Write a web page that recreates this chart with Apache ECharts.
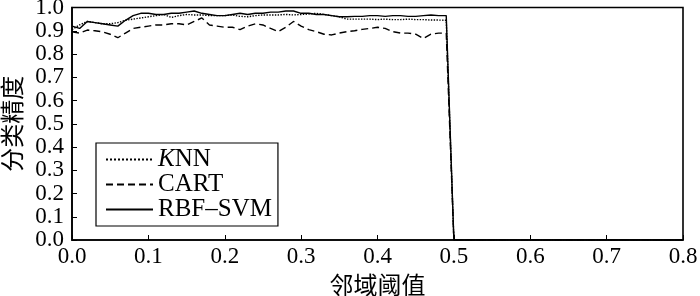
<!DOCTYPE html>
<html><head><meta charset="utf-8">
<script src="https://cdn.jsdelivr.net/npm/echarts@6/dist/echarts.min.js"></script>
<style>html,body{margin:0;padding:0;background:#fff}#c{width:700px;height:296px}</style>
</head><body><div id="c"></div>
<script>
var thresholds = [0.00,0.01,0.02,0.03,0.04,0.05,0.06,0.07,0.08,0.09,0.10,0.11,0.12,0.13,0.14,0.15,0.16,0.17,0.18,0.19,0.20,0.21,0.22,0.23,0.24,0.25,0.26,0.27,0.28,0.29,0.30,0.31,0.32,0.33,0.34,0.35,0.36,0.37,0.38,0.39,0.40,0.41,0.42,0.43,0.44,0.45,0.46,0.47,0.48,0.49,0.50,0.80];
var knn = [0.905,0.925,0.94,0.935,0.93,0.93,0.935,0.945,0.95,0.955,0.96,0.965,0.97,0.957,0.965,0.97,0.968,0.968,0.965,0.965,0.965,0.968,0.962,0.96,0.965,0.968,0.968,0.968,0.97,0.968,0.97,0.972,0.975,0.97,0.965,0.96,0.95,0.95,0.95,0.95,0.948,0.95,0.948,0.948,0.95,0.948,0.948,0.946,0.946,0.945,0,0];
var cart = [0.895,0.89,0.903,0.9,0.895,0.885,0.87,0.89,0.91,0.915,0.92,0.925,0.925,0.93,0.93,0.925,0.94,0.955,0.925,0.92,0.915,0.915,0.905,0.92,0.93,0.925,0.91,0.896,0.915,0.94,0.92,0.905,0.896,0.885,0.882,0.89,0.896,0.9,0.906,0.91,0.915,0.91,0.896,0.89,0.89,0.885,0.867,0.885,0.89,0.89,0,0];
var svm = [0.92,0.91,0.94,0.935,0.93,0.925,0.92,0.945,0.965,0.975,0.975,0.97,0.97,0.975,0.975,0.98,0.985,0.975,0.97,0.965,0.965,0.97,0.975,0.97,0.975,0.975,0.98,0.98,0.985,0.985,0.975,0.975,0.97,0.97,0.965,0.96,0.96,0.962,0.962,0.965,0.965,0.962,0.965,0.965,0.962,0.962,0.965,0.968,0.965,0.965,0,0];
var seriesNames = ['KNN','CART','RBF-SVM'];
var xTicks = [0.0,0.1,0.2,0.3,0.4,0.5,0.6,0.7,0.8];
var yTicks = [0.0,0.1,0.2,0.3,0.4,0.5,0.6,0.7,0.8,0.9,1.0];
var xTitle = '邻域阈值';
var yTitle = '分类精度';

function pairs(ys){return thresholds.map(function(x,i){return [x,ys[i]];});}
var serif = 'Liberation Serif';
var cjk = 'Noto Sans CJK SC';
var chart = echarts.init(document.getElementById('c'), null, {renderer:'canvas'});
function mk(name, data, type){
  return {name:name,type:'line',data:pairs(data),symbol:'none',animation:false,
    lineStyle:{color:'#000',width:1.4,type:type},itemStyle:{color:'#000'}};
}
chart.setOption({
  animation:false,
  grid:{left:72,right:17,top:7.5,bottom:56,containLabel:false,outerBoundsMode:'none',show:true,borderColor:'#000',borderWidth:1.6,backgroundColor:'transparent'},
  legend:{orient:'vertical',left:96,top:143,padding:[4,6,4,9],itemGap:0,itemWidth:47,itemHeight:14,
    borderColor:'#000',borderWidth:1.2,
    itemStyle:{opacity:0},
    data:seriesNames,
    formatter:function(n){return n==='KNN'?'{i|K}{t|NN}':'{t|'+n.replace('-','–')+'}';},
    textStyle:{color:'#000',fontFamily:serif,fontSize:25,lineHeight:23,
      rich:{i:{fontStyle:'italic',fontFamily:serif,fontSize:25,lineHeight:23,color:'#000'},t:{fontFamily:serif,fontSize:25,lineHeight:23,color:'#000'}}}
  },
  xAxis:{type:'value',min:0,max:0.8,interval:0.1,
    name:xTitle,nameLocation:'middle',nameGap:31,nameTextStyle:{fontFamily:cjk,fontSize:24,color:'#000'},
    axisLine:{lineStyle:{color:'#000',width:1.6}},
    axisTick:{inside:true,length:5,lineStyle:{color:'#000'}},
    axisLabel:{color:'#000',fontFamily:serif,fontSize:23,margin:5,showMinLabel:true,showMaxLabel:true,hideOverlap:false,formatter:function(v){return v.toFixed(1);}},
    splitLine:{show:false}},
  yAxis:{type:'value',min:0,max:1,interval:0.1,
    name:yTitle,nameLocation:'middle',nameGap:29,nameRotate:90,nameTextStyle:{fontFamily:cjk,fontSize:24,color:'#000'},
    axisLine:{lineStyle:{color:'#000',width:1.6}},
    axisTick:{inside:true,length:5,lineStyle:{color:'#000'}},
    axisLabel:{color:'#000',fontFamily:serif,fontSize:23,lineHeight:23,margin:8,showMinLabel:true,showMaxLabel:true,hideOverlap:false,formatter:function(v){return v.toFixed(1);}},
    splitLine:{show:false}},
  series:[mk('KNN',knn,'dotted'),mk('CART',cart,[7,4]),mk('RBF-SVM',svm,'solid')]
});
</script></body></html>
